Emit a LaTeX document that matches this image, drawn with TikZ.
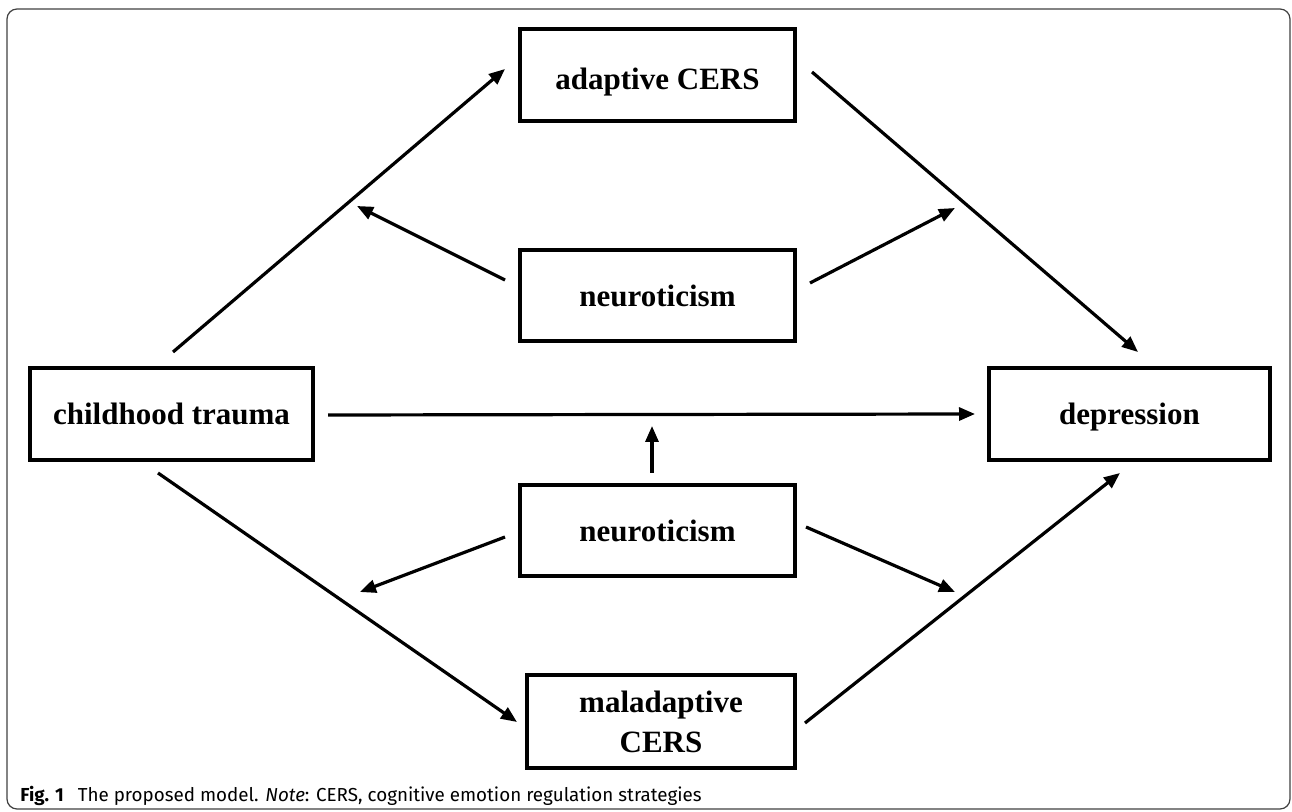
\documentclass[tikz,border=0pt]{standalone}
\usepackage{fontspec}
\setmainfont{Liberation Serif}
\newfontfamily\capfont{Fira Sans}
\usetikzlibrary{arrows.meta}
\begin{document}
\begin{tikzpicture}[x=0.5pt,y=-0.5pt,
  box/.style={draw, line width=2pt, font=\fontsize{15.5}{20}\selectfont\bfseries, align=center, inner sep=0pt},
  arr/.style={line width=1.6pt, -{Triangle[length=8pt,width=6.5pt]}}]
\useasboundingbox (0,0) rectangle (1292,812);
\draw[black!75, line width=0.6pt, rounded corners=5pt] (7,9) rectangle (1290,809);

\node[box, minimum width=137.5pt, minimum height=46pt] (ad) at (657.5,75) {\raisebox{-3.5pt}[\height][\depth]{adaptive CERS}};
\node[box, minimum width=137.5pt, minimum height=45.5pt] (ntop) at (657.5,295.5) {neuroticism};
\node[box, minimum width=141.5pt, minimum height=46pt] (ct) at (171.5,414) {childhood trauma};
\node[box, minimum width=140.5pt, minimum height=46pt] (dep) at (1129.5,414) {\raisebox{-1.5pt}[\height][\depth]{depression}};
\node[box, minimum width=137.5pt, minimum height=45.5pt] (nbot) at (657.5,530.5) {neuroticism};
\node[box, minimum width=134pt, minimum height=46.5pt] (mal) at (661,721.5) {maladaptive\\CERS};

\coordinate (m1) at (357,206);
\coordinate (m2) at (955,208);
\coordinate (m0) at (652,426);
\coordinate (m3) at (360,592);
\coordinate (m4) at (955,592);

\draw[arr] ([shift={(1.5,-14)}]ct.north) -- ([shift={(-13,-6)}]ad.west);
\draw[arr] ([shift={(15,-3)}]ad.east) -- ([shift={(8.5,-14)}]dep.north);
\draw[arr] ([shift={(13,1)}]ct.east) -- ([shift={(-12,0)}]dep.west);
\draw[arr] ([shift={(-13.5,11)}]ct.south) -- ([shift={(-8,0.5)}]mal.west);
\draw[arr] ([shift={(8,1.5)}]mal.east) -- ([shift={(-9.5,11)}]dep.south);

\draw[arr] ([shift={(-13,-15.5)}]ntop.west) -- (m1);
\draw[arr] ([shift={(13,-12.5)}]ntop.east) -- (m2);
\draw[arr] ([shift={(-5.5,-10)}]nbot.north) -- (m0);
\draw[arr] ([shift={(-13,6.5)}]nbot.west) -- (m3);
\draw[arr] ([shift={(9,-3.5)}]nbot.east) -- (m4);

\node[anchor=base west, font=\capfont\fontsize{9.4}{11}\selectfont, inner sep=0pt] (cap) at (20,802) {\textbf{Fig. 1}\hspace{7pt}The proposed model. \textit{Note}: CERS, cognitive emotion regulation strategies};
\end{tikzpicture}
\end{document}
